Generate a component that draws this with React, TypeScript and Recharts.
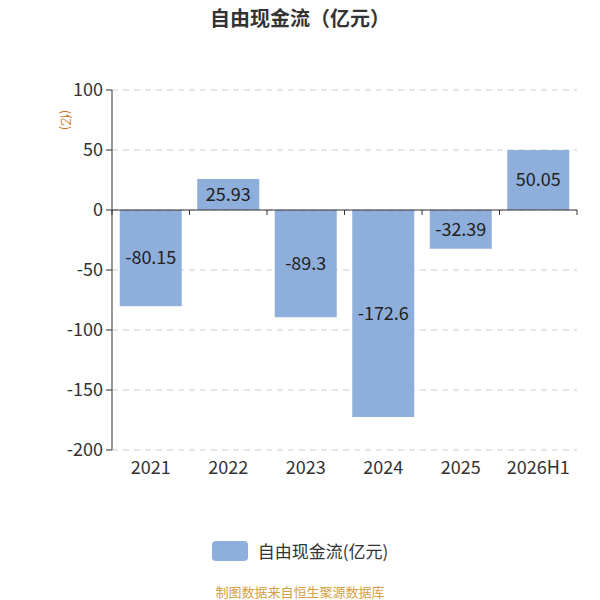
import { BarChart, Bar, XAxis, YAxis, CartesianGrid, ReferenceLine, LabelList } from 'recharts';

const years = ['2021', '2022', '2023', '2024', '2025', '2026H1'];
const freeCashFlow = [-80.15, 25.93, -89.3, -172.6, -32.39, 50.05];
const yTicks = [-200, -150, -100, -50, 0, 50, 100];

const seriesName = '自由现金流(亿元)';
const font = '"Noto Sans CJK SC", "Noto Sans", sans-serif';

const chartData = years.map((year, i) => ({ year, value: freeCashFlow[i] }));

// tick marks along the zero line, at category boundaries
function ZeroTicks(props: any) {
  const vb = props.viewBox || {};
  const { x = 0, y = 0, width = 0 } = vb;
  const step = width / years.length;
  return (
    <g>
      {Array.from({ length: years.length + 1 }, (_, i) => (
        <line key={i} x1={x + i * step} y1={y} x2={x + i * step} y2={y + 5} stroke="#333" strokeWidth={1} />
      ))}
    </g>
  );
}

export default function App() {
  return (
    <div style={{ position: 'absolute', left: 0, top: 0, width: 600, height: 600, background: '#fff', fontFamily: font, overflow: 'hidden' }}>
      <div style={{ position: 'absolute', top: 6, width: 600, textAlign: 'center', fontSize: 20, lineHeight: '24px', fontWeight: 'bold', color: '#333' }}>
        自由现金流（亿元）
      </div>
      <div
        style={{
          position: 'absolute', left: 56, top: 112, fontSize: 12, lineHeight: '16px', color: '#c8702a',
          transform: 'rotate(90deg)', transformOrigin: 'center', whiteSpace: 'nowrap',
        }}
      >
        (亿)
      </div>
      <BarChart
        width={600}
        height={600}
        data={chartData}
        margin={{ top: 90, right: 23, bottom: 120, left: 0 }}
        barCategoryGap="10%"
      >
        <CartesianGrid vertical={false} stroke="#ccc" strokeDasharray="6 5" />
        <XAxis
          dataKey="year"
          axisLine={false}
          tickLine={false}
          tickMargin={5}
          height={30}
          tick={{ fill: '#333', fontSize: 18, fontFamily: font }}
        />
        <YAxis
          width={112}
          domain={[-200, 100]}
          ticks={yTicks}
          interval={0}
          axisLine={{ stroke: '#333' }}
          tickLine={{ stroke: '#333' }}
          tickSize={6}
          tickMargin={3}
          tick={{ fill: '#333', fontSize: 18, fontFamily: font }}
        />
        <ReferenceLine y={0} stroke="#333" label={<ZeroTicks />} />
        <Bar dataKey="value" name={seriesName} fill="#8eaedb" isAnimationActive={false}>
          <LabelList dataKey="value" position="center" fill="#222" fontSize={18} fontFamily={font} />
        </Bar>
      </BarChart>
      <div style={{ position: 'absolute', top: 540, width: 600, display: 'flex', justifyContent: 'center', alignItems: 'center' }}>
        <span style={{ width: 36, height: 20, background: '#8eaedb', borderRadius: 4, marginRight: 10, display: 'inline-block' }} />
        <span style={{ fontSize: 17, lineHeight: '22px', color: '#333' }}>{seriesName}</span>
      </div>
      <div style={{ position: 'absolute', top: 584, width: 600, textAlign: 'center', fontSize: 13, lineHeight: '16px', color: '#d4a040' }}>
        制图数据来自恒生聚源数据库
      </div>
    </div>
  );
}
